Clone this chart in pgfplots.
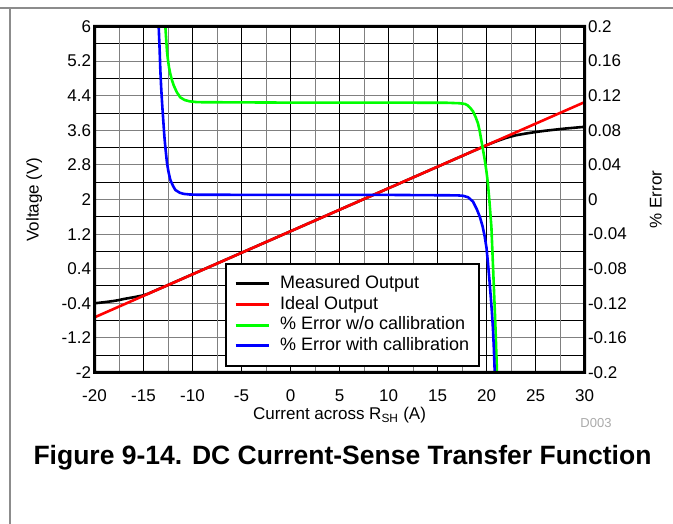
\documentclass[border=0pt]{standalone}
\usepackage{fontspec}
\setmainfont{Liberation Sans}
\usepackage{pgfplots}
\pgfplotsset{compat=1.18}
\newcommand\tf{\fontsize{17bp}{20bp}\selectfont}
\newcommand\lf{\fontsize{18bp}{20bp}\selectfont}
\definecolor{gridgray}{RGB}{128,128,128}
\definecolor{framegray}{RGB}{140,140,140}
\definecolor{errgreen}{RGB}{0,255,0}
\definecolor{errblue}{RGB}{0,0,255}
\definecolor{idealred}{RGB}{255,0,0}
\pgfplotsset{
  base/.style={at={(94.5bp,151.5bp)}, anchor=south west, scale only axis,
    width=490bp, height=346bp, xmin=-20, xmax=30,
    major tick length=0pt, minor tick length=0pt,
    tick label style={font=\tf},
    /pgf/number format/assume math mode=true,
    label style={font=\tf}},
}
\begin{document}
\begin{tikzpicture}
\useasboundingbox (0,0) rectangle (673bp,524bp);
\fill[framegray] (0,515bp) rectangle (673bp,517bp);
\fill[framegray] (9bp,0) rectangle (11bp,517bp);

% horizontal grid
\begin{axis}[base, ymin=-2, ymax=6, xtick=\empty,
  ytick={-2,-1.2,-0.4,0.4,1.2,2,2.8,3.6,4.4,5.2,6},
  minor ytick={-1.6,-0.8,0,0.8,1.6,2.4,3.2,4,4.8,5.6},
  yticklabels={}, ymajorgrids, yminorgrids,
  major grid style={gridgray, line width=1bp},
  minor grid style={black, line width=1bp},
  axis line style={draw=none}]
\end{axis}

% main axis (voltage)
\begin{axis}[base, ymin=-2, ymax=6,
  xtick={-20,-15,...,30}, minor x tick num=1,
  ytick={-2,-1.2,-0.4,0.4,1.2,2,2.8,3.6,4.4,5.2,6},
  xmajorgrids, xminorgrids,
  major grid style={black, line width=1bp},
  minor grid style={gridgray, line width=1bp},
  axis line style={draw=none},
  ytick pos=left, xtick pos=bottom,
  yticklabel style={/pgf/number format/fixed, /pgf/number format/precision=2},
  xticklabel style={yshift=-13.5bp},
  xlabel={Current across R\textsubscript{SH} (A)},
  xlabel style={at={(axis description cs:0.5,-0.1364)}, anchor=base},
  ylabel={Voltage (V)},
  ylabel style={at={(axis description cs:-0.1232,0.5)}, anchor=center},
]
\addplot[black, line width=2.6bp] coordinates {
(-20,-0.40) (-19,-0.375) (-18,-0.345) (-17.5,-0.325) (-17,-0.30) (-16,-0.26)
(-15,-0.215) (-14.5,-0.175) (-14,-0.125) (-13,-0.027) (0,1.265) (10,2.26)
(20,3.255) (21,3.345) (22,3.425) (23,3.485) (24,3.525) (25,3.56) (26,3.59)
(27,3.615) (28,3.64) (29,3.66) (30,3.68)};
\addplot[idealred, line width=2.6bp] coordinates {(-20,-0.725) (30,4.25)};
\end{axis}

% error axis
\begin{axis}[base, ymin=-0.2, ymax=0.2,
  axis x line=none, axis y line*=right,
  y axis line style={draw=none},
  ytick={-0.2,-0.16,-0.12,-0.08,-0.04,0,0.04,0.08,0.12,0.16,0.2},
  yticklabel style={/pgf/number format/fixed, /pgf/number format/precision=2},
  ylabel={\% Error},
  ylabel style={at={(axis description cs:1.1456,0.5)}, anchor=center},
  legend cell align=left,
  legend image code/.code={\draw[#1, line width=3bp] (0bp,0bp) -- (33bp,0bp);},
  legend style={at={(axis description cs:0.2668,0.0164)}, anchor=south west,
    font=\lf, draw=black, line width=2bp, fill=white,
    inner xsep=8bp, inner ysep=9.5bp, row sep=0pt,
    nodes={inner sep=1.85bp, text height=13bp, text depth=4bp},
    /tikz/every odd column/.append style={column sep=8bp}},
]
\addlegendimage{black}
\addlegendentry{Measured Output}
\addlegendimage{idealred}
\addlegendentry{Ideal Output}
\addplot[errgreen, line width=2.6bp] coordinates {
(-12.77,0.2) (-12.68,0.184) (-12.6,0.171) (-12.5,0.161) (-12.4,0.153)
(-12.26,0.145) (-12.1,0.138) (-11.92,0.132) (-11.6,0.124) (-11.24,0.118)
(-10.8,0.115) (-10.3,0.1135) (-9.5,0.1125) (0,0.112) (10,0.112) (16,0.1118)
(17.2,0.1113) (17.78,0.1105) (18.05,0.109) (18.29,0.1065) (18.62,0.102)
(18.9,0.095) (19.13,0.088) (19.3,0.0795) (19.48,0.068) (19.65,0.057)
(19.82,0.046) (20.0,0.032) (20.15,0.018) (20.32,-0.005) (20.5,-0.032)
(20.7,-0.087) (20.9,-0.143) (21.07,-0.2)};
\addlegendentry{\% Error w/o callibration}
\addplot[errblue, line width=2.6bp] coordinates {
(-13.45,0.2) (-13.36,0.175) (-13.28,0.149) (-13.2,0.13) (-13.1,0.111)
(-12.98,0.091) (-12.87,0.073) (-12.75,0.058) (-12.6,0.042) (-12.45,0.032)
(-12.26,0.0226) (-12.0,0.016) (-11.75,0.011) (-11.3,0.0078) (-10.9,0.0065)
(-10.3,0.0058) (-9.5,0.0055) (0,0.0053) (10,0.0053) (17,0.0048) (17.6,0.0043)
(18.12,0.0026) (18.62,-0.0024) (19.0,-0.011) (19.31,-0.0197) (19.6,-0.031)
(19.82,-0.043) (20.0,-0.056) (20.15,-0.0735) (20.3,-0.093) (20.43,-0.112)
(20.55,-0.13) (20.66,-0.15) (20.75,-0.172) (20.84,-0.2)};
\addlegendentry{\% Error with callibration}
\end{axis}

\fill[black, even odd rule] (93bp,150bp) rectangle (586bp,499bp)
  (96bp,153bp) rectangle (583bp,496bp);
\node[anchor=base, font=\fontsize{13bp}{15bp}\selectfont, text={rgb,255:red,170;green,170;blue,170}] at (596bp,96bp) {D003};
\node[anchor=base, font=\fontsize{26.5bp}{30bp}\selectfont\bfseries] at (342.5bp,59bp) {Figure 9-14. DC Current-Sense Transfer Function};
\end{tikzpicture}
\end{document}
